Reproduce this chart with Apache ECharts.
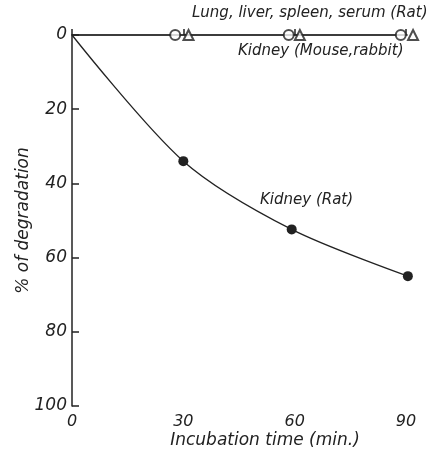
<!DOCTYPE html>
<html>
<head>
<meta charset="utf-8">
<script src="https://cdn.jsdelivr.net/npm/echarts@6/dist/echarts.min.js"></script>
<style>
  html, body { margin: 0; padding: 0; background: #fff; }
  #chart { width: 437px; height: 449px; }
</style>
</head>
<body>
<div id="chart"></div>
<script>
var myChart = echarts.init(document.getElementById('chart'));

// Kidney (Rat)
var ratTime = [0, 30, 59.2, 90.5];
var ratDeg = [0, 34, 52.4, 65];

// lung, liver, spleen, serum (Rat) -> circles ; kidney (mouse, rabbit) -> triangles
var circleTime = [27.8, 58.4, 88.6];
var triTime = [31.4, 61.4, 91.9];
var flatDeg = [0, 0, 0];

var xTicks = [0, 30, 60, 90];
var yTicks = [0, 20, 40, 60, 80, 100];

var ink = '#222';
var font = 'DejaVu Sans';

function pairs(xs, ys) {
    var out = [];
    for (var i = 0; i < xs.length; i++) out.push([xs[i], ys[i]]);
    return out;
}

// flat line at 0: from origin through all the open markers
var flatLine = [[0, 0]].concat(pairs(circleTime, flatDeg)).concat(pairs(triTime, flatDeg));
flatLine.sort(function (a, b) { return a[0] - b[0]; });

var ratData = pairs(ratTime, ratDeg).map(function (p, i) {
    return i === 0 ? { value: p, symbol: 'none' } : p;
});

option = {
    animation: false,
    grid: { left: 72, right: 31, top: 35, bottom: 43, outerBoundsMode: 'none', containLabel: false },
    xAxis: {
        type: 'value',
        min: 0,
        max: 90,
        interval: 30,
        name: 'Incubation time (min.)',
        nameLocation: 'middle',
        nameGap: 26,
        nameMoveOverlap: false,
        nameTextStyle: { color: ink, fontSize: 17, fontStyle: 'italic', fontFamily: font, padding: [0, 0, 0, 52] },
        axisLine: { lineStyle: { color: ink, width: 1.5 } },
        axisTick: { inside: true, length: 6, lineStyle: { color: ink, width: 1.5 } },
        axisLabel: { color: ink, fontSize: 16, fontStyle: 'italic', fontFamily: font, margin: 8 },
        splitLine: { show: false }
    },
    yAxis: {
        type: 'value',
        inverse: true,
        min: 0,
        max: 100,
        interval: 20,
        name: '% of degradation',
        nameLocation: 'middle',
        nameGap: 40,
        nameMoveOverlap: false,
        nameTextStyle: { color: ink, fontSize: 17, fontStyle: 'italic', fontFamily: font },
        axisLine: { lineStyle: { color: ink, width: 1.5 } },
        axisTick: { inside: true, length: 7, lineStyle: { color: ink, width: 1.5 } },
        axisLabel: { color: ink, fontSize: 17, fontStyle: 'italic', fontFamily: font, margin: 5 },
        splitLine: { show: false }
    },
    series: [
        {
            type: 'line',
            data: flatLine,
            symbol: 'none',
            clip: false,
            lineStyle: { color: ink, width: 1.2 },
            z: 2
        },
        {
            type: 'scatter',
            data: pairs(circleTime, flatDeg),
            symbol: 'emptyCircle',
            symbolSize: 10,
            itemStyle: { color: ink, borderWidth: 1.3 },
            z: 3
        },
        {
            type: 'scatter',
            data: pairs(triTime, flatDeg),
            symbol: 'emptyTriangle',
            symbolSize: 10,
            clip: false,
            itemStyle: { color: ink, borderWidth: 1.3 },
            z: 3
        },
        {
            type: 'line',
            data: ratData,
            smooth: 0.3,
            symbol: 'circle',
            symbolSize: 10,
            clip: false,
            lineStyle: { color: ink, width: 1.3 },
            itemStyle: { color: ink },
            z: 4
        }
    ],
    graphic: [
        {
            type: 'text', left: 192, top: 6,
            style: { text: 'Lung, liver, spleen, serum (Rat)', fill: ink, fontSize: 15, fontStyle: 'italic', fontFamily: font }
        },
        {
            type: 'text', left: 238, top: 44,
            style: { text: 'Kidney (Mouse,rabbit)', fill: ink, fontSize: 15, fontStyle: 'italic', fontFamily: font }
        },
        {
            type: 'text', left: 260, top: 193,
            style: { text: 'Kidney (Rat)', fill: ink, fontSize: 15, fontStyle: 'italic', fontFamily: font }
        }
    ]
};

myChart.setOption(option);
</script>
</body>
</html>
